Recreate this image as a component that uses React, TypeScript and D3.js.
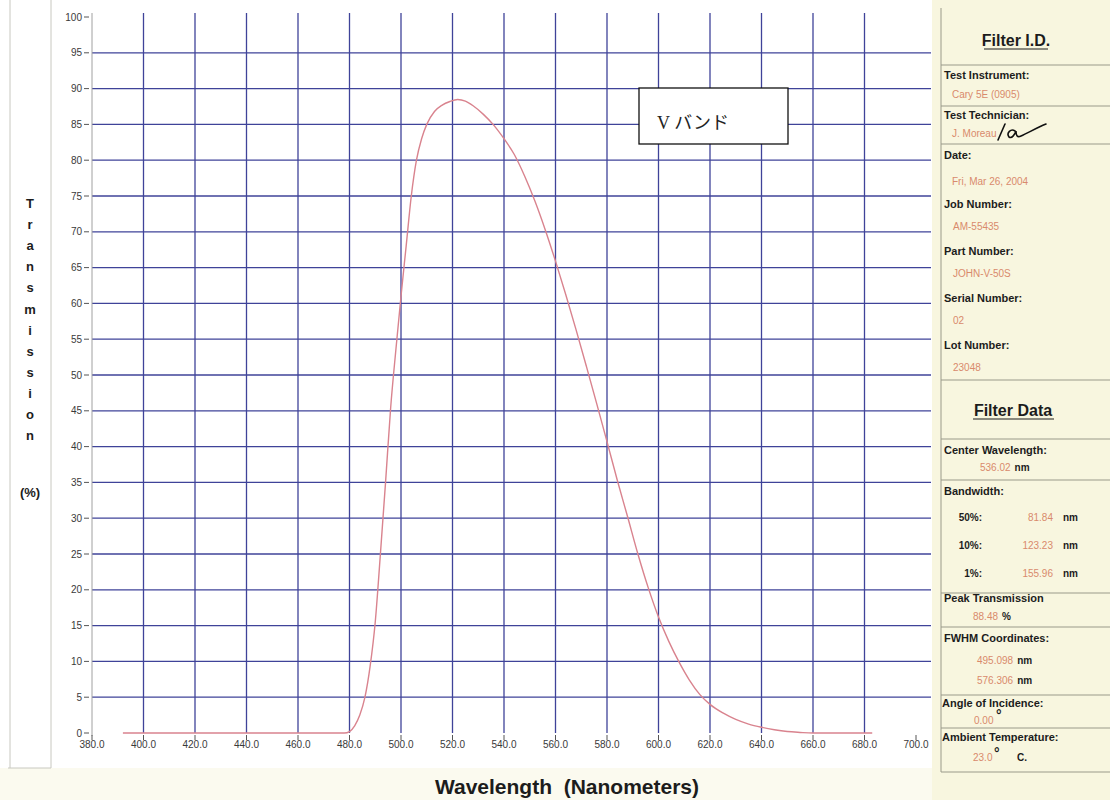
import React from "react";
import * as d3 from "d3";

// Spectral transmission of the V-band filter (wavelength in nm, transmission in %)
const wavelengths = [
  392, 400, 420, 440, 460, 478, 480, 482, 484, 486, 488, 490, 492, 494, 496,
  498, 500, 502, 504, 506, 508, 510, 513, 516, 519, 522, 525, 528, 532, 536,
  540, 544, 548, 552, 556, 560, 564, 568, 572, 576, 580, 584, 588, 592, 596,
  600, 604, 608, 612, 616, 620, 625, 630, 635, 640, 645, 650, 655, 660, 670, 683,
];
const transmission = [
  0, 0, 0, 0, 0, 0, 0.2, 1, 2.5, 5, 9.3, 15.5, 25, 35, 45.5,
  53.5, 61, 68, 75, 80, 83, 85, 86.8, 87.7, 88.2, 88.48, 88.25, 87.6, 86.4, 84.9,
  83, 80.8, 77.8, 74.3, 70.3, 65.9, 61.2, 56.3, 51.2, 46, 40.7, 35.3, 30.2, 25, 20.3,
  16.2, 12.8, 9.9, 7.4, 5.4, 4.0, 2.8, 1.9, 1.25, 0.8, 0.45, 0.2, 0.08, 0, 0, 0,
];

const xTicks = d3.range(380, 701, 20);
const yTicks = d3.range(0, 101, 5);
const gridX = d3.range(400, 681, 20);
const gridY = d3.range(5, 96, 5);

const yTitleLetters = ["T", "r", "a", "n", "s", "m", "i", "s", "s", "i", "o", "n"];

// Right-hand information panel
const idRows = [
  { label: "Test Instrument:", value: "Cary 5E (0905)" },
  { label: "Test Technician:", value: "J. Moreau" },
  { label: "Date:", value: "Fri, Mar 26, 2004" },
];
const numberRows = [
  { label: "Job Number:", value: "AM-55435" },
  { label: "Part Number:", value: "JOHN-V-50S" },
  { label: "Serial Number:", value: "02" },
  { label: "Lot Number:", value: "23048" },
];
const bandwidths = [
  { pct: "50%:", value: "81.84" },
  { pct: "10%:", value: "123.23" },
  { pct: "1%:", value: "155.96" },
];
const centerWavelength = "536.02";
const peakTransmission = "88.48";
const fwhmCoords = ["495.098", "576.306"];
const angleOfIncidence = "0.00";
const ambientTemp = "23.0";

const W = 1110;
const H = 800;

const GRID = "#3f4399";
const CURVE = "#d9838e";
const ORANGE = "#d98a6c";
const INK = "#1c1c1c";
const PANEL_BG = "#f8f6df";
const sans = "'Liberation Sans', Arial, sans-serif";

export default function App() {
  const x = d3.scaleLinear().domain([380, 700]).range([92, 916]);
  const y = d3.scaleLinear().domain([0, 100]).range([733, 17]);

  const line = d3
    .line<number>()
    .x((_, i) => x(wavelengths[i]))
    .y((d) => y(d))
    .curve(d3.curveMonotoneX);

  const lbl = (t: string, yy: number, xx = 944) => (
    <text x={xx} y={yy} fontFamily={sans} fontSize={11} fontWeight="bold" fill={INK}>
      {t}
    </text>
  );
  const val = (t: string, yy: number, xx = 952) => (
    <text x={xx} y={yy} fontFamily={sans} fontSize={10} fill={ORANGE}>
      {t}
    </text>
  );
  // orange value followed by a black unit
  const valUnit = (t: string, unit: string, yy: number, xx: number) => (
    <text x={xx} y={yy} fontFamily={sans} fontSize={10} fill={ORANGE}>
      {t}
      <tspan fill={INK} fontWeight="bold" dx={4}>
        {unit}
      </tspan>
    </text>
  );
  const sep = (yy: number) => (
    <line x1={941} x2={W} y1={yy} y2={yy} stroke="#9a9a8a" strokeWidth={1} />
  );

  return (
    <>
      <style>{`body{margin:0;}`}</style>
      <svg width={W} height={H} viewBox={`0 0 ${W} ${H}`} style={{ display: "block" }}>
        {/* page */}
        <rect x={0} y={0} width={W} height={H} fill="#fbfaef" />
        <rect x={0} y={0} width={932} height={768} fill="#ffffff" />
        <line x1={10} x2={10} y1={0} y2={768} stroke="#c8c8c0" strokeWidth={1} />
        <line x1={51} x2={51} y1={0} y2={768} stroke="#c8c8c0" strokeWidth={1} />
        <line x1={8} x2={51} y1={768} y2={768} stroke="#c8c8c0" strokeWidth={1} />

        {/* grid */}
        <g>
          {gridY.map((v) => (
            <line key={`gy${v}`} x1={92} x2={931} y1={y(v)} y2={y(v)} stroke={GRID} strokeWidth={1.3} />
          ))}
          {gridX.map((w) => (
            <line key={`gx${w}`} x1={x(w)} x2={x(w)} y1={13} y2={y(0)} stroke={GRID} strokeWidth={1.3} />
          ))}
        </g>

        {/* y axis */}
        <line x1={92} x2={92} y1={13} y2={736} stroke="#a0a0a0" strokeWidth={1} />
        {yTicks.map((v) => (
          <g key={`yt${v}`}>
            <line x1={84} x2={89} y1={y(v)} y2={y(v)} stroke="#555" strokeWidth={1} />
            <text
              x={82}
              y={y(v) + 3.5}
              textAnchor="end"
              fontFamily={sans}
              fontSize={10}
              fill="#3a3a3a"
            >
              {v}
            </text>
          </g>
        ))}

        {/* x axis */}
        {xTicks.map((w) => (
          <g key={`xt${w}`}>
            <line x1={x(w)} x2={x(w)} y1={735} y2={740} stroke="#555" strokeWidth={1} />
            <text
              x={x(w)}
              y={748}
              textAnchor="middle"
              fontFamily={sans}
              fontSize={10}
              fill="#3a3a3a"
            >
              {w.toFixed(1)}
            </text>
          </g>
        ))}

        {/* transmission curve */}
        <path d={line(transmission) ?? ""} fill="none" stroke={CURVE} strokeWidth={1.4} />

        {/* band label */}
        <rect x={639} y={88} width={149} height={56} fill="#ffffff" stroke="#111" strokeWidth={1.3} />
        <text
          x={657}
          y={129}
          fontFamily="'Liberation Serif', 'Noto Sans CJK JP', serif"
          fontSize={18}
          fill="#222"
        >
          V バンド
        </text>

        {/* axis titles */}
        {yTitleLetters.map((c, i) => (
          <text
            key={`yl${i}`}
            x={30}
            y={208 + i * 21.1}
            textAnchor="middle"
            fontFamily={sans}
            fontSize={13}
            fontWeight="bold"
            fill={INK}
          >
            {c}
          </text>
        ))}
        <text x={30} y={497} textAnchor="middle" fontFamily={sans} fontSize={13} fontWeight="bold" fill={INK}>
          (%)
        </text>
        <text
          x={567}
          y={794}
          textAnchor="middle"
          fontFamily={sans}
          fontSize={21}
          fontWeight="bold"
          fill={INK}
          style={{ whiteSpace: "pre" }}
        >
          {"Wavelength  (Nanometers)"}
        </text>

        {/* information panel */}
        <rect x={932} y={0} width={W - 932} height={H} fill={PANEL_BG} />
        <line x1={941} x2={941} y1={8} y2={772} stroke="#9a9a8a" strokeWidth={1} />

        <text x={1016} y={46} textAnchor="middle" fontFamily={sans} fontSize={16} fontWeight="bold" fill={INK}>
          Filter I.D.
        </text>
        <line x1={984} x2={1048} y1={49} y2={49} stroke={INK} strokeWidth={1.2} />
        {sep(65)}
        {lbl(idRows[0].label, 79)}
        {val(idRows[0].value, 98)}
        {sep(106)}
        {lbl(idRows[1].label, 119)}
        {val(idRows[1].value, 137)}
        <path
          d="M998,140 L1005,124 M1015,131 C1011,128 1006,133 1009,137 C1012,139 1015,134 1016,131 C1016,135 1017,138 1021,136 C1028,133 1036,128 1046,124"
          fill="none"
          stroke="#111"
          strokeWidth={1.6}
          strokeLinecap="round"
        />
        {sep(144)}
        {lbl(idRows[2].label, 159)}
        {val(idRows[2].value, 185)}
        {numberRows.map((r, i) => (
          <g key={r.label}>
            {lbl(r.label, 208 + i * 47)}
            {val(r.value, 230 + i * 47, 953)}
          </g>
        ))}
        {sep(380)}

        <text x={1013} y={416} textAnchor="middle" fontFamily={sans} fontSize={16} fontWeight="bold" fill={INK}>
          Filter Data
        </text>
        <line x1={973} x2={1054} y1={419} y2={419} stroke={INK} strokeWidth={1.2} />
        {sep(439)}
        {lbl("Center Wavelength:", 454)}
        {valUnit(centerWavelength, "nm", 471, 980)}
        {sep(480)}
        {lbl("Bandwidth:", 495)}
        {bandwidths.map((b, i) => (
          <g key={b.pct}>
            <text
              x={982}
              y={521 + i * 28}
              textAnchor="end"
              fontFamily={sans}
              fontSize={10}
              fontWeight="bold"
              fill={INK}
            >
              {b.pct}
            </text>
            <text x={1053} y={521 + i * 28} textAnchor="end" fontFamily={sans} fontSize={10} fill={ORANGE}>
              {b.value}
            </text>
            <text x={1063} y={521 + i * 28} fontFamily={sans} fontSize={10} fontWeight="bold" fill={INK}>
              nm
            </text>
          </g>
        ))}
        {sep(593)}
        {lbl("Peak Transmission", 602)}
        {valUnit(peakTransmission, "%", 620, 973)}
        {sep(627)}
        {lbl("FWHM Coordinates:", 642)}
        {fwhmCoords.map((c, i) => (
          <g key={c}>{valUnit(c, "nm", 664 + i * 20, 977)}</g>
        ))}
        {sep(695)}
        {lbl("Angle of Incidence:", 707, 942)}
        {val(angleOfIncidence, 724, 974)}
        <text x={996} y={720} fontFamily={sans} fontSize={14} fontWeight="bold" fill={INK}>°</text>
        {sep(728)}
        {lbl("Ambient Temperature:", 741, 942)}
        {val(ambientTemp, 761, 973)}
        <text x={994} y={758} fontFamily={sans} fontSize={14} fontWeight="bold" fill={INK}>°</text>
        <text x={1017} y={761} fontFamily={sans} fontSize={10} fontWeight="bold" fill={INK}>C.</text>
        {sep(772)}
      </svg>
    </>
  );
}
